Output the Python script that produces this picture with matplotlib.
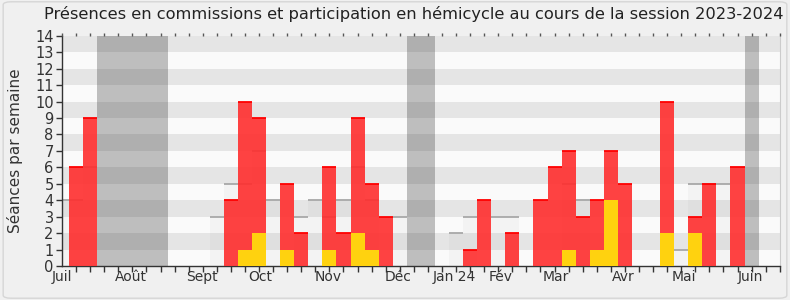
import numpy as np
import matplotlib
matplotlib.use('Agg')
import matplotlib.pyplot as plt
from matplotlib.patches import FancyBboxPatch

plt.rcParams['font.family'] = ['DejaVu Sans']

# one value per week of the session (week 0 = start of July 2023)
weeks = np.arange(52)
presences = [0, 6, 9, 0, 0, 0, 0, 0, 0, 0, 0, 0, 4, 10, 9, 0, 5, 2, 0, 6,
             2, 9, 5, 3, 0, 0, 0, 0, 0, 1, 4, 0, 2, 0, 4, 6, 7, 3, 4, 7,
             5, 0, 0, 10, 0, 3, 5, 0, 6, 0, 0, 0]
hemicycle = [0, 0, 0, 0, 0, 0, 0, 0, 0, 0, 0, 0, 0, 1, 2, 0, 1, 0, 0, 1,
             0, 2, 1, 0, 0, 0, 0, 0, 0, 0, 0, 0, 0, 0, 0, 0, 1, 0, 1, 4,
             0, 0, 0, 2, 0, 2, 0, 0, 0, 0, 0, 0]
mediane = [4, 4, 6, 0, 0, 0, 0, 0, 0, 0, 0, 3, 5, 5, 7, 4, 0, 3, 4, 3,
           4, 6, 4, 0, 3, 0, 0, 0, 2, 3, 0, 3, 3, 0, 0, 0, 5, 4, 0, 0,
           0, 0, 0, 0, 1, 5, 5, 5, 0, 0, 0, 0]
vacances = [3, 4, 5, 6, 7, 25, 26, 49]

mois = ['Juil', 'Août', 'Sept', 'Oct', 'Nov', 'Déc', 'Jan 24', 'Fév', 'Mar', 'Avr', 'Mai', 'Juin']
mois_pos = [0, 4.9, 9.95, 14.1, 18.9, 23.9, 27.9, 31.2, 35.1, 39.9, 44.2, 48.9]

presences = np.array(presences)
hemicycle = np.array(hemicycle)
mediane = np.array(mediane)

fig = plt.figure(figsize=(7.9, 3.0), dpi=100, facecolor='#f0f0f0')
fig.patches.append(FancyBboxPatch((0.004, 0.006), 0.992, 0.988, boxstyle='round,pad=0,rounding_size=0.01',
                                  transform=fig.transFigure, facecolor='none', edgecolor='#d6d6d6', lw=1))
ax = fig.add_axes([0.0785, 0.113, 0.9085, 0.768])
ax.set_facecolor('#fafafa')

# vacation periods (contiguous runs)
runs = []
for w in vacances:
    if runs and runs[-1][1] == w - 1:
        runs[-1][1] = w
    else:
        runs.append([w, w])
for a, b in runs:
    ax.axvspan(a - 0.5, b + 0.5, color='#bebebe', lw=0, zorder=0.5)

# horizontal stripes
for k in range(1, 14, 2):
    ax.axhspan(k, k + 1, color='#333333', alpha=0.1, lw=0, zorder=1.5)

# median of all deputies
m = mediane > 0
ax.bar(weeks[m], mediane[m], width=1, color='#f3f3f3', lw=0, zorder=1)
ax.hlines(mediane[m], weeks[m] - 0.5, weeks[m] + 0.5, color='#a8a8a8', lw=1.3, zorder=2)

# presences
p = presences > 0
ax.bar(weeks[p], presences[p], width=1, color='#ff2e2e', alpha=0.9, lw=0, zorder=3)
ax.hlines(presences[p], weeks[p] - 0.5, weeks[p] + 0.5, color='#ff0000', lw=1.3, zorder=3.5)

h = hemicycle > 0
ax.bar(weeks[h], hemicycle[h], width=1, color='#ffd20f', lw=0, zorder=4)

ax.set_xlim(0, 51)
ax.set_ylim(0, 14)
ax.set_yticks(range(0, 15))
ax.tick_params(axis='y', labelsize=10.5, colors='#333333', length=4, width=1, pad=2)
ax.set_xticks(mois_pos)
ax.set_xticklabels(mois)
ax.set_xticks(weeks, minor=True)
ax.tick_params(axis='x', which='major', length=0, labelsize=10, colors='#333333', pad=3)
ax.tick_params(axis='x', which='minor', length=4, width=1, color='#333333')
ax.set_ylabel('Séances par semaine', fontsize=11, color='#333333', labelpad=9)

# short week ticks on top edge
top = ax.twiny()
top.set_xlim(ax.get_xlim())
top.set_xticks(weeks)
top.set_xticklabels([])
top.tick_params(axis='x', length=2, width=1, color='#555555')
for s in top.spines.values():
    s.set_visible(False)

for s in ['left', 'bottom']:
    ax.spines[s].set_color('#333333')
    ax.spines[s].set_linewidth(1)
ax.spines['top'].set_visible(False)
ax.spines['right'].set_color('#cccccc')

fig.text(0.524, 0.952, 'Présences en commissions et participation en hémicycle au cours de la session 2023-2024',
         ha='center', va='center', fontsize=11.7, color='#222222')

plt.savefig('out.png', dpi=100, facecolor=fig.get_facecolor())
